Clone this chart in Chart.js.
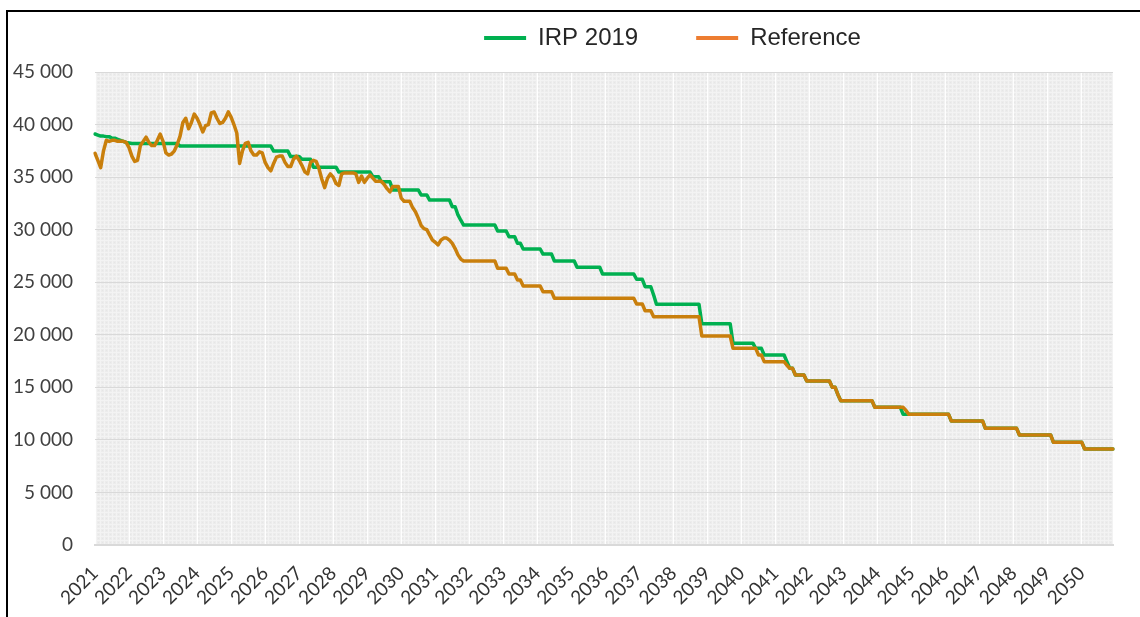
<!DOCTYPE html>
<html>
<head>
<meta charset="utf-8">
<script src="https://cdn.jsdelivr.net/npm/chart.js@4.4.1/dist/chart.umd.min.js"></script>
<style>
html,body{margin:0;padding:0;background:#fff;}
canvas{display:block;}
</style>
</head>
<body>
<canvas id="c" width="1140" height="617"></canvas>
<script>
// ---- data ----
const years = ['2021','2022','2023','2024','2025','2026','2027','2028','2029','2030',
  '2031','2032','2033','2034','2035','2036','2037','2038','2039','2040',
  '2041','2042','2043','2044','2045','2046','2047','2048','2049','2050'];
const monthNames = ['01','02','03','04','05','06','07','08','09','10','11','12'];
const seriesNames = ['IRP 2019', 'Reference'];

const irp2019 = [
  39100,39000,38900,38900,38850,38850,38700,38700,38600,38500,38400,38300,
  38250,38200,38200,38200,38200,38200,38200,38200,38200,38200,38200,38200,
  38200,38200,38200,38200,38200,38200,37950,37950,37950,37950,37950,37950,
  37950,37950,37950,37950,37950,37950,37950,37950,37950,37950,37950,37950,
  37950,37950,37950,37950,37950,37950,37950,37950,37950,37950,37950,37950,
  37950,37950,37950,37480,37480,37480,37480,37480,37480,36950,36950,36950,
  36950,36700,36700,36700,36700,35950,35950,35950,35950,35950,35950,35950,
  35950,35950,35480,35480,35480,35480,35480,35480,35480,35480,35480,35480,
  35480,35480,35040,35040,35040,34560,34560,34560,34560,33780,33780,33780,
  33780,33780,33780,33780,33780,33780,33780,33300,33300,33300,32820,32820,
  32820,32820,32820,32820,32820,32820,32180,32180,31400,30900,30440,30440,
  30440,30440,30440,30440,30440,30440,30440,30440,30440,30440,29870,29870,
  29870,29870,29330,29330,29330,28700,28700,28160,28160,28160,28160,28160,
  28160,28160,27680,27680,27680,27680,27020,27020,27020,27020,27020,27020,
  27020,27020,26420,26420,26420,26420,26420,26420,26420,26420,26420,25780,
  25780,25780,25780,25780,25780,25780,25780,25780,25780,25780,25780,25280,
  25280,25280,24570,24570,24570,23780,22900,22900,22900,22900,22900,22900,
  22900,22900,22900,22900,22900,22900,22900,22900,22900,22900,21050,21050,
  21050,21050,21050,21050,21050,21050,21050,21050,21050,19200,19200,19200,
  19200,19200,19200,19200,19200,18710,18710,18710,18080,18080,18080,18080,
  18080,18080,18080,18080,17440,16810,16810,16170,16170,16170,16170,15600,
  15600,15600,15600,15600,15600,15600,15600,15600,15000,15000,14300,13730,
  13730,13730,13730,13730,13730,13730,13730,13730,13730,13730,13730,13100,
  13100,13100,13100,13100,13100,13100,13100,13100,13100,12430,12430,12430,
  12430,12430,12430,12430,12430,12430,12430,12430,12430,12430,12430,12430,
  12430,12430,11800,11800,11800,11800,11800,11800,11800,11800,11800,11800,
  11800,11800,11100,11100,11100,11100,11100,11100,11100,11100,11100,11100,
  11100,11100,10470,10470,10470,10470,10470,10470,10470,10470,10470,10470,
  10470,10470,9770,9770,9770,9770,9770,9770,9770,9770,9770,9770,
  9770,9130,9130,9130,9130,9130,9130,9130,9130,9130,9130,9130
];

const reference = [
  37270,36600,35900,37500,38500,38400,38500,38500,38400,38400,38400,38300,
  37800,37000,36500,36600,38000,38400,38800,38300,38000,38000,38500,39100,
  38400,37300,37100,37200,37500,38100,38900,40200,40600,39600,40200,41000,
  40600,40000,39300,39900,40000,41100,41200,40600,40100,40200,40600,41200,
  40700,40000,39200,36300,37500,38200,38300,37500,37100,37100,37400,37300,
  36400,35900,35600,36300,36900,37000,37000,36400,36000,36000,36700,37000,
  36600,36100,35500,35300,36400,36600,36500,35800,34800,34000,34900,35300,
  35000,34400,34200,35300,35400,35400,35400,35400,35300,34500,35100,34500,
  34900,35200,34900,34600,34600,34600,34300,33900,33600,34100,34100,34100,
  33000,32700,32700,32700,32100,31700,31100,30400,30100,30000,29500,29000,
  28800,28550,29000,29200,29200,29000,28700,28200,27600,27200,27020,27020,
  27020,27020,27020,27020,27020,27020,27020,27020,27020,27020,26320,26320,
  26320,26320,25780,25780,25780,25210,25210,24640,24640,24640,24640,24640,
  24640,24640,24100,24100,24100,24100,23470,23470,23470,23470,23470,23470,
  23470,23470,23470,23470,23470,23470,23470,23470,23470,23470,23470,23470,
  23470,23470,23470,23470,23470,23470,23470,23470,23470,23470,23470,22930,
  22930,22930,22290,22290,22290,21720,21720,21720,21720,21720,21720,21720,
  21720,21720,21720,21720,21720,21720,21720,21720,21720,21720,19880,19880,
  19880,19880,19880,19880,19880,19880,19880,19880,19880,18710,18710,18710,
  18710,18710,18710,18710,18710,18710,18080,18080,17440,17440,17440,17440,
  17440,17440,17440,17440,17100,16810,16810,16170,16170,16170,16170,15600,
  15600,15600,15600,15600,15600,15600,15600,15600,15000,15000,14300,13730,
  13730,13730,13730,13730,13730,13730,13730,13730,13730,13730,13730,13100,
  13100,13100,13100,13100,13100,13100,13100,13100,13100,13100,12800,12430,
  12430,12430,12430,12430,12430,12430,12430,12430,12430,12430,12430,12430,
  12430,12430,11800,11800,11800,11800,11800,11800,11800,11800,11800,11800,
  11800,11800,11100,11100,11100,11100,11100,11100,11100,11100,11100,11100,
  11100,11100,10470,10470,10470,10470,10470,10470,10470,10470,10470,10470,
  10470,10470,9770,9770,9770,9770,9770,9770,9770,9770,9770,9770,
  9770,9130,9130,9130,9130,9130,9130,9130,9130,9130,9130,9130
];

const yTicks = [0,5000,10000,15000,20000,25000,30000,35000,40000,45000];
const yTickLabels = ['0','5 000','10 000','15 000','20 000','25 000','30 000','35 000','40 000','45 000'];

// ---- build ----
const labels = [];
years.forEach(y => monthNames.forEach(m => labels.push(y + '-' + m)));

const lineColors = ['#00B050', '#C97F0C'];
const legendColors = ['#00B050', '#ED7D31'];

function makePattern(ctx) {
  const p = document.createElement('canvas');
  p.width = 4; p.height = 4;
  const c = p.getContext('2d');
  c.fillStyle = '#ececec'; c.fillRect(0, 0, 4, 4);
  c.fillStyle = '#f3f3f3';
  c.fillRect(0, 0, 4, 1); c.fillRect(0, 0, 1, 4);
  c.fillStyle = '#e6e6e6';
  c.fillRect(2, 2, 1, 1);
  return ctx.createPattern(p, 'repeat');
}

const bgPlugin = {
  id: 'bgPlugin',
  beforeDraw(chart) {
    const {ctx, chartArea: a} = chart;
    ctx.save();
    ctx.fillStyle = '#ffffff';
    ctx.fillRect(0, 0, chart.width, chart.height);
    ctx.fillStyle = makePattern(ctx);
    ctx.fillRect(a.left, a.top, a.right - a.left, a.bottom - a.top);
    ctx.restore();
  },
  afterDraw(chart) {
    const ctx = chart.ctx;
    ctx.save();
    ctx.fillStyle = '#000000';
    ctx.fillRect(6, 10, chart.width - 6, 2);
    ctx.fillRect(6, 10, 2, chart.height - 10);
    ctx.restore();
  }
};

const legendPlace = {
  id: 'legendPlace',
  afterLayout(chart) {
    const l = chart.legend;
    if (!l) return;
    l.left = 195; l.right = 1150;
    l.top = -32; l.bottom = 72;
  }
};

new Chart(document.getElementById('c'), {
  type: 'line',
  data: {
    labels: labels,
    datasets: [
      { label: seriesNames[0], data: irp2019, borderColor: lineColors[0], backgroundColor: lineColors[0],
        borderWidth: 3.5, pointRadius: 0, pointHoverRadius: 0, tension: 0, order: 1,
        borderJoinStyle: 'round', borderCapStyle: 'round' },
      { label: seriesNames[1], data: reference, borderColor: lineColors[1], backgroundColor: lineColors[1],
        borderWidth: 3.5, pointRadius: 0, pointHoverRadius: 0, tension: 0, order: 0,
        borderJoinStyle: 'round', borderCapStyle: 'round' }
    ]
  },
  options: {
    responsive: false,
    animation: false,
    events: [],
    layout: { padding: { left: 0, right: 27, top: 0, bottom: 0 } },
    plugins: {
      tooltip: { enabled: false },
      legend: {
        position: 'top',
        align: 'center',
        maxHeight: 72,
        labels: {
          boxWidth: 42, boxHeight: 4, padding: 58,
          color: '#262626',
          font: { family: 'Liberation Sans', size: 24 },
          generateLabels: (chart) => chart.data.datasets.map((ds, i) => ({
            text: ds.label, fillStyle: legendColors[i], strokeStyle: legendColors[i],
            lineWidth: 0, hidden: false, datasetIndex: i, fontColor: '#262626'
          }))
        }
      }
    },
    scales: {
      x: {
        type: 'category',
        offset: false,
        grid: {
          color: (c) => (c.tick && c.tick.label ? 'rgba(255,255,255,0.95)' : 'rgba(0,0,0,0)'),
          lineWidth: 1, drawTicks: false
        },
        border: { display: true, color: '#d9d9d9', width: 2 },
        ticks: {
          autoSkip: false, maxRotation: 45, minRotation: 45, padding: 17,
          color: '#333333', font: { family: 'Lato', size: 19 },
          callback: function(v, i) { return i % 12 === 0 ? years[i / 12] : null; }
        },
        afterFit: (s) => { s.height = 72; }
      },
      y: {
        min: 0, max: 45000,
        grid: { color: '#d9d9d9', lineWidth: 1, drawTicks: false },
        border: { display: false },
        ticks: {
          stepSize: 5000, padding: 22, color: '#404040', font: { family: 'Lato', size: 19 },
          callback: (v) => yTickLabels[yTicks.indexOf(v)]
        },
        afterFit: (s) => { s.width = 95; }
      }
    }
  },
  plugins: [bgPlugin, legendPlace]
});
</script>
</body>
</html>
